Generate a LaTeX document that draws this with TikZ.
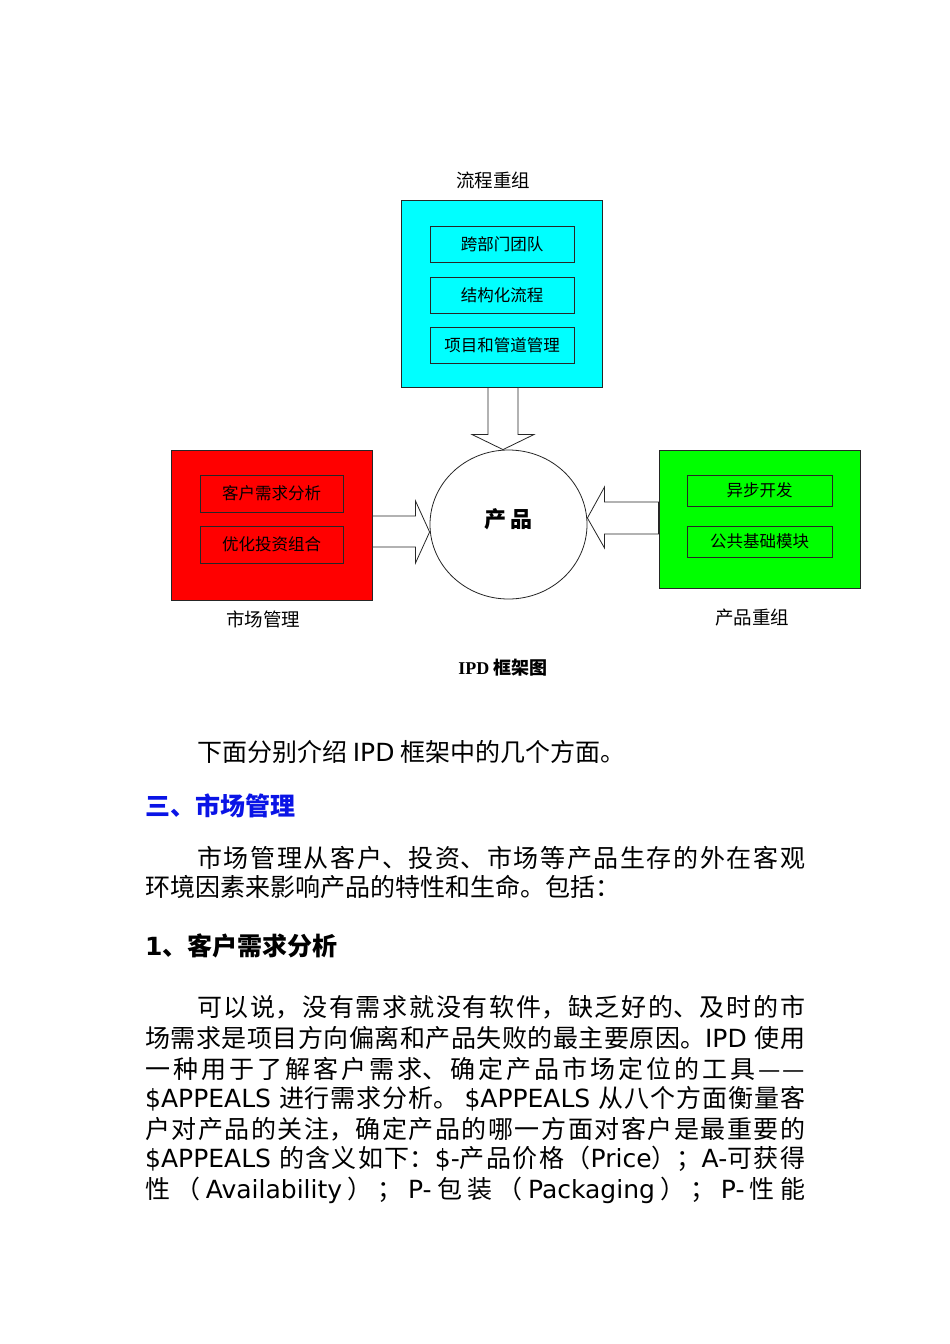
\documentclass[tikz,border=0pt]{standalone}
\usepackage{fontspec}
\setmainfont{Noto Sans CJK SC}
\newfontfamily\en{DejaVu Sans}
\newfontfamily\ipdser{Liberation Serif}
\usetikzlibrary{shapes.geometric,calc,positioning}
\definecolor{flowcyan}{RGB}{0,255,255}
\definecolor{mktred}{RGB}{255,0,0}
\definecolor{prodgreen}{RGB}{0,255,0}
\definecolor{headblue}{RGB}{10,20,230}
\newcommand\jl[1]{\parindent=0pt\parfillskip=0pt\XeTeXlinebreaklocale "zh"\XeTeXlinebreakskip=0pt plus 1fil\relax #1\par}
\newcommand\jspread[1]{\parindent=0pt\parfillskip=0pt\relax #1\par}
\newcommand\gap{\hfill{}}

\begin{document}
\begin{tikzpicture}[x=1pt, y=-1pt,
box/.style={draw=black!85, line width=1pt, inner sep=0pt},
inner/.style={box, font=\fontsize{16.5}{18}\selectfont},
grouplabel/.style={font=\fontsize{18.5}{20}\selectfont},
fatarrow/.style={draw=black!85, line width=0.8pt, fill=white},
body/.style={anchor=west, inner sep=0pt, font=\fontsize{25}{30}\selectfont},
jline/.style={body, text width=#1, align=justify}]
\fill [white] (0,0) rectangle (950,1344);
\useasboundingbox (0,0) rectangle (950,1344);
%% Groups
\node [box, fill=flowcyan, minimum width=201pt, minimum height=187pt] (flow) at (501.5,293.5) {};
\node [box, fill=mktred, minimum width=201pt, minimum height=150pt] (mkt) at (271.5,525) {};
\node [box, fill=prodgreen, minimum width=201pt, minimum height=138pt] (reorg) at (759.5,519) {};
\node [draw=black!85, line width=0.8pt, ellipse, minimum width=157pt, minimum height=149pt,
font=\bfseries\fontsize{22}{24}\selectfont] (prod) at (508.5,524.5) {\raisebox{12pt}{产\,品}};
%% Items
\node [inner, fill=flowcyan, minimum width=144pt, minimum height=36pt] (team) at (502,244) {跨部门团队};
\node [inner, fill=flowcyan, minimum width=144pt, minimum height=36pt, below=14pt of team] (struct) {结构化流程};
\node [inner, fill=flowcyan, minimum width=144pt, minimum height=36pt, below=13pt of struct] (pipe) {项目和管道管理};
\node [inner, fill=mktred, minimum width=143pt, minimum height=37pt] (need) at (271.5,493.5) {客户需求分析};
\node [inner, fill=mktred, minimum width=143pt, minimum height=37pt, below=13pt of need] (invest) {优化投资组合};
\node [inner, fill=prodgreen, minimum width=145pt, minimum height=31pt] (async) at (759.5,490.5) {异步开发};
\node [inner, fill=prodgreen, minimum width=145pt, minimum height=31pt, below=19pt of async] (base) {公共基础模块};
%% Labels
\node [grouplabel] (flowlbl) at (493,180) {流程重组};
\node [grouplabel] (mktlbl) at (263,619) {市场管理};
\node [grouplabel] (reorglbl) at (752,618) {产品重组};
\node [font=\bfseries\fontsize{18}{20}\selectfont] (title) at (503,668) {{\ipdser IPD} 框架图};
%% Arrows
\coordinate (ftip) at ($(prod.north)+(-5.5,0)$);
\coordinate (mtip) at ($(prod.west)+(0,7.5)$);
\coordinate (rtip) at ($(prod.east)+(0,-6.5)$);
\draw [fatarrow] ($(flow.south)+(-13.5,0)$) -- ++(0,47) -- ++(-16,0) -- (ftip)
  -- ($(flow.south)+(32.5,47)$) -- ++(-16,0) -- ($(flow.south)+(16.5,0)$) -- cycle;
\draw [fatarrow] ($(mkt.east)+(0,-9)$) -- ++(43,0) -- ++(0,-15) -- (mtip)
  -- ($(mkt.east)+(43,38)$) -- ++(0,-16) -- ($(mkt.east)+(0,22)$) -- cycle;
\draw [fatarrow] ($(reorg.west)+(0,-17)$) -- ++(-54,0) -- ++(0,-15) -- (rtip)
  -- ($(reorg.west)+(-54,29)$) -- ++(0,-14) -- ($(reorg.west)+(0,15)$) -- cycle;
%% Text
\node [body] (intro) at (197,752) {下面分别介绍 {\en IPD} 框架中的几个方面。};
\node [body, text=headblue, font=\bfseries\fontsize{25}{30}\selectfont] (sec) at (145,806) {三、市场管理};
\node [jline=608pt] (p1a) at (197,858) {\jl{市场管理从客户、投资、市场等产品生存的外在客观}};
\node [body] (p1b) at (145,887) {环境因素来影响产品的特性和生命。包括：};
\node [body, font=\bfseries\fontsize{25}{30}\selectfont] (sub) at (145,946) {{\en 1}、客户需求分析};
\node [jline=608pt] (p2a) at (197,1007) {\jl{可以说，没有需求就没有软件，缺乏好的、及时的市}};
\node [jline=660pt] (p2b) at (145,1038) {\jl{场需求是项目方向偏离和产品失败的最主要原因。{\en IPD }使用}};
\node [jline=660pt] (p2c) at (145,1069) {\jl{一种用于了解客户需求、确定产品市场定位的工具—\kern2pt—}};
\node [jline=660pt] (p2d) at (145,1099) {\jl{{\en \$APPEALS }进行需求分析。 {\en \$APPEALS }从八个方面衡量客}};
\node [jline=660pt] (p2e) at (145,1129) {\jl{户对产品的关注，确定产品的哪一方面对客户是最重要的}};
\node [jline=660pt] (p2f) at (145,1159) {\jl{{\en \$APPEALS }的含义如下：{\en \$-}产品价格（{\en Price}）；{\en A-}可获得}};
\node [jline=660pt] (p2g) at (145,1190) {\jspread{性\gap （\gap {\en Availability}\gap ）\gap ；\gap {\en P-}\gap 包\gap 装\gap （\gap {\en Packaging}\gap ）\gap ；\gap {\en P-}\gap 性\gap 能}};
\end{tikzpicture}
\end{document}
